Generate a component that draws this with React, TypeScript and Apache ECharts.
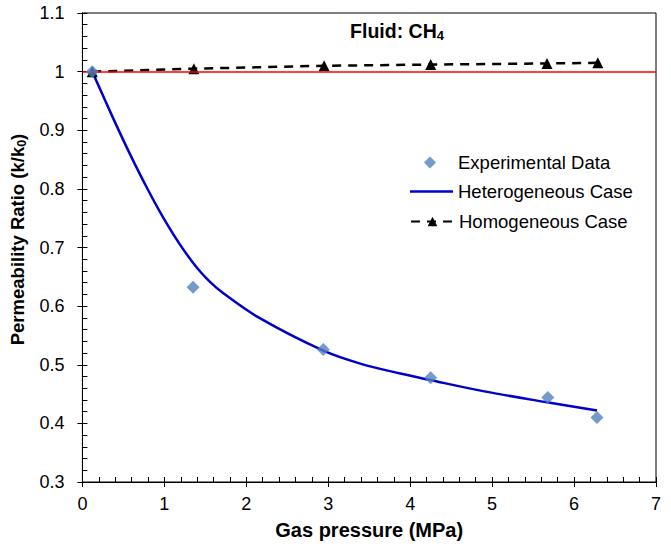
import React, { useEffect, useRef } from "react";
import * as echarts from "echarts";

const expX = [0.12, 1.35, 2.94, 4.25, 5.68, 6.28];
const expY = [1.0, 0.632, 0.526, 0.478, 0.444, 0.41];

const hetX = [0.12, 0.38, 0.585, 0.79, 0.99, 1.195, 1.4, 1.56, 1.72, 2.17, 2.94, 3.39, 3.88, 4.24, 4.89, 5.67, 6.28];
const hetY = [1.0, 0.919, 0.858, 0.801, 0.75, 0.704, 0.665, 0.641, 0.622, 0.579, 0.524, 0.502, 0.485, 0.474, 0.455, 0.436, 0.422];

const homX = [0.12, 1.36, 2.95, 4.25, 5.67, 6.29];
const homY = [1.0, 1.005, 1.01, 1.012, 1.014, 1.015];

const xTicks = { min: 0, max: 7, interval: 1 };
const yTicks = { min: 0.3, max: 1.1, interval: 0.1 };

const FONT = "Liberation Sans, Arial, sans-serif";

export default function App() {
  const ref = useRef<HTMLDivElement>(null);
  useEffect(() => {
    if (!ref.current) return;
    const chart = echarts.init(ref.current, null, { renderer: "svg" });
    const zip = (xs: number[], ys: number[]) => xs.map((x, i) => [x, ys[i]]);
    const baseAxisLine = { show: true, lineStyle: { color: "#000", width: 1 } };
    const legendText = { fontFamily: FONT, fontSize: 18.5, color: "#000" };
    chart.setOption({
      animation: false,
      backgroundColor: "#fff",
      textStyle: { fontFamily: FONT },
      title: {
        text: "{b|Fluid: CH}{s|4}",
        left: 392,
        top: 15,
        textAlign: "center",
        textStyle: {
          rich: {
            b: { fontFamily: FONT, fontWeight: "bold", fontSize: 19.5, color: "#000" },
            s: { fontFamily: FONT, fontWeight: "bold", fontSize: 13, color: "#000", padding: [9, 0, 0, 0] },
          },
        },
      },
      legend: [
        {
          left: 419,
          top: 148,
          itemWidth: 12,
          itemHeight: 12,
          textStyle: { ...legendText, padding: [0, 0, 0, 17] },
          data: [{ name: "Experimental Data", icon: "diamond" }],
        },
        {
          left: 405,
          top: 177,
          itemWidth: 43,
          itemHeight: 2.5,
          textStyle: legendText,
          data: [{ name: "Heterogeneous Case", icon: "rect" }],
        },
        {
          left: 405,
          top: 207,
          itemWidth: 43,
          itemHeight: 12,
          textStyle: legendText,
          data: [{ name: "Homogeneous Case" }],
        },
      ],
      grid: {
        left: 82,
        right: 15,
        top: 13,
        bottom: 65,
        show: true,
        borderColor: "#000",
        borderWidth: 1,
      },
      xAxis: [
        {
          type: "value",
          ...xTicks,
          position: "bottom",
          name: "Gas pressure (MPa)",
          nameLocation: "middle",
          nameGap: 38,
          nameTextStyle: { fontFamily: FONT, fontWeight: "bold", fontSize: 20, color: "#000" },
          axisLine: baseAxisLine,
          axisTick: { show: true, inside: false, length: 5, lineStyle: { color: "#000" } },
          axisLabel: { fontFamily: FONT, fontSize: 18, color: "#000", margin: 13 },
          splitLine: { show: false },
        },
        {
          type: "value",
          ...xTicks,
          position: "bottom",
          axisLine: baseAxisLine,
          axisTick: { show: true, inside: true, length: 5, lineStyle: { color: "#000" } },
          minorTick: { show: true, splitNumber: 5, length: 5, lineStyle: { color: "#000" } },
          axisLabel: { show: false },
          splitLine: { show: false },
        },
      ],
      yAxis: [
        {
          type: "value",
          ...yTicks,
          position: "left",
          name: "{t|Permeability Ratio (k/k}{s|0}{t|)}",
          nameLocation: "middle",
          nameGap: 36,
          nameTextStyle: {
            padding: [0, 0, 0, 16],
            rich: {
              t: { fontFamily: FONT, fontWeight: "bold", fontSize: 18.5, color: "#000" },
              s: { fontFamily: FONT, fontWeight: "bold", fontSize: 12.5, color: "#000", padding: [9, 0, 0, 0] },
            },
          },
          axisLine: baseAxisLine,
          axisTick: { show: true, inside: false, length: 5, lineStyle: { color: "#000" } },
          axisLabel: {
            fontFamily: FONT,
            fontSize: 18,
            color: "#000",
            margin: 18,
            formatter: (v: number) => String(Math.round(v * 10) / 10),
          },
          splitLine: { show: false },
        },
        {
          type: "value",
          ...yTicks,
          position: "left",
          axisLine: baseAxisLine,
          axisTick: { show: true, inside: true, length: 5, lineStyle: { color: "#000" } },
          minorTick: { show: true, splitNumber: 5, length: 5, lineStyle: { color: "#000" } },
          axisLabel: { show: false },
          splitLine: { show: false },
        },
      ],
      series: [
        {
          name: "Heterogeneous Case",
          type: "line",
          data: zip(hetX, hetY),
          smooth: 0.35,
          symbol: "none",
          lineStyle: { color: "#0000CC", width: 2.5 },
          itemStyle: { color: "#0000CC" },
          z: 3,
          markLine: {
            silent: true,
            symbol: "none",
            label: { show: false },
            lineStyle: { color: "#FF0000", width: 1.5, type: "solid" },
            data: [{ yAxis: 1 }],
          },
        },
        {
          name: "Homogeneous Case",
          type: "line",
          data: zip(homX, homY),
          symbol: "triangle",
          symbolSize: 11,
          lineStyle: { color: "#000", width: 2.5, type: [9, 7] },
          itemStyle: { color: "#000" },
          z: 4,
        },
        {
          name: "Experimental Data",
          type: "scatter",
          data: zip(expX, expY),
          symbol: "diamond",
          symbolSize: 13,
          itemStyle: { color: "#4F81BD" },
          z: 5,
        },
      ],
    });
    return () => chart.dispose();
  }, []);
  return (
    <div
      ref={ref}
      style={{ position: "fixed", left: 0, top: 0, width: 671, height: 547, background: "#fff" }}
    />
  );
}
